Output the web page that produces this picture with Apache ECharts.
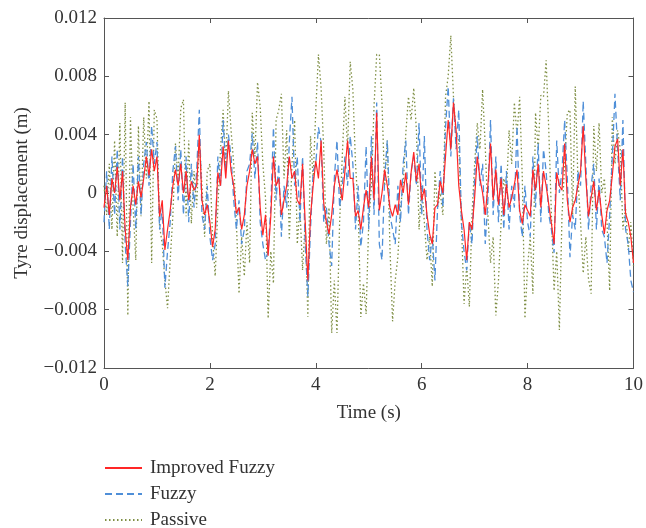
<!DOCTYPE html>
<html>
<head>
<meta charset="utf-8">
<script src="https://cdn.jsdelivr.net/npm/echarts@6/dist/echarts.min.js"></script>
<style>
  html, body { margin: 0; padding: 0; background: #fff; }
  #chart { width: 646px; height: 528px; }
</style>
</head>
<body>
<div id="chart"></div>
<script>
// sampled every 0.05 s, values in mm (converted to m below)
const dt = 0.05;

const improvedMm = [
  -1.0, 0.5, -1.5, 1.0, 0.0, 1.8, -0.5, 1.5, -2.5, -4.6, -1.0, 0.5, -0.8, 0.8, -0.3, 1.0, 2.5, 1.2, 3.0, 1.5,
  2.5, -1.6, -0.5, -3.9, -2.5, -1.2, 0.5, 1.6, 0.5, 2.0, 0.0, 1.5, -0.5, 0.8, 0.2, 0.5, 4.0, -0.5, -1.5, -0.8,
  -2.0, -3.7, -2.5, 1.4, 0.5, 3.2, 1.0, 3.6, 1.5, 0.5, -1.4, -1.0, -2.5, -1.5, 0.5, 1.5, 3.0, 2.0, 2.5, -1.0,
  -2.9, -1.5, -4.3, -1.6, 2.5, 0.5, 1.0, -1.5, -0.5, 0.5, 2.5, 1.0, 1.5, -0.5, -0.8, 2.0, -2.0, -6.0, -1.6, 0.5,
  2.2, 1.0, 3.6, -0.7, -2.0, -2.8, -1.5, 0.5, 1.6, 0.5, -0.5, 1.5, 3.6, 1.0, 1.0, -1.6, -1.2, -2.5, -1.0, 0.2,
  -1.0, 2.5, -0.5, 5.5, -1.2, 0.0, 1.6, 0.5, -1.0, -1.6, -0.8, -1.5, 0.9, 0.0, 1.4, -0.8, 1.4, 2.8, 0.8, 2.0,
  -0.5, 0.3, -1.5, -2.8, -3.5, -1.0, -0.8, 0.8, 0.0, 2.5, 5.0, 3.0, 6.2, 4.3, 0.5, -1.2, -2.5, -4.6, -2.0, -2.5,
  -0.3, 2.5, 1.0, 0.0, -1.5, 0.5, 3.4, -0.5, 1.6, -0.8, 1.0, -1.5, 0.6, -1.0, -0.3, 0.6, 1.6, -1.2, -2.1, -0.8,
  -1.2, -1.6, 1.6, 0.2, 2.0, -1.0, 1.5, 0.5, -0.8, -2.1, -3.5, 1.4, 0.5, 0.2, 3.4, -0.5, -2.0, -1.0, -0.5, 0.5,
  1.5, 4.6, 1.0, -1.6, -0.3, 0.8, -1.2, 0.2, -1.5, -2.8, -1.2, -0.5, 1.2, 3.2, 3.7, 0.5, 3.0, -1.4, -2.0, -3.0,
  -4.8
];

const fuzzyMm = [
  -2.0, 1.5, -2.5, 2.5, -1.5, 3.0, -2.5, 2.5, -3.5, -6.4, -2.0, 2.0, -2.5, 2.5, -1.5, 2.0, 3.5, 0.5, 4.6, 2.0,
  3.5, -2.5, -1.0, -6.5, -4.0, -2.0, 1.5, 3.2, -0.5, 3.0, -1.5, 2.5, -2.0, 2.0, -1.0, 1.5, 5.7, -1.5, -2.5, 0.5,
  -3.0, -4.6, -3.5, 2.5, 0.5, 5.0, 1.5, 4.0, 2.5, -0.5, -2.5, -0.5, -3.5, -2.5, 1.5, 2.0, 4.1, 1.0, 3.5, -2.0,
  -3.5, -4.6, -4.0, -1.0, 4.5, -0.5, 2.0, -3.0, 0.5, -1.0, 3.5, 6.6, 0.5, 2.5, -2.0, 2.5, -3.5, -7.1, -2.5, 1.5,
  2.0, 4.5, 3.5, -2.0, -1.0, -3.5, -5.0, 1.0, 3.6, -1.0, 0.5, 2.5, 0.5, 3.9, 2.0, -2.5, 0.5, -3.7, -2.0, 3.2,
  -2.5, 3.9, -1.5, 6.2, -3.5, -4.6, 1.0, 3.6, -1.5, -2.5, -3.5, 0.5, -2.0, 2.0, 3.6, -1.5, 1.5, 2.5, 0.5, 4.8,
  -1.5, 3.9, -2.5, -4.6, -3.0, -6.0, -1.0, 1.5, -1.0, 4.5, 7.3, 2.5, 6.5, 3.0, 5.7, -2.0, -4.0, -5.3, -2.0, -3.5,
  1.0, 3.9, 0.5, 2.0, -3.5, -0.5, 5.0, -1.5, 2.5, -2.0, 2.0, -2.5, 1.5, -2.5, 0.5, -1.0, 4.6, -1.5, -3.0, 0.5,
  -2.0, -3.0, 2.5, -1.0, 3.4, -2.0, 3.0, 1.5, -1.5, -2.5, -4.1, 3.6, 0.0, 1.5, 5.0, 1.0, -4.4, -1.5, -2.5, 1.5,
  0.5, 6.3, 2.0, -2.5, 0.5, 2.0, -2.5, 1.0, -2.5, -3.0, -4.8, -1.5, 2.5, 6.8, 3.0, -0.5, 5.0, -2.5, -3.5, -6.0,
  -6.8
];

const passiveMm = [
  0.5, -1.5, 2.0, -2.5, 3.6, -3.0, 4.8, -4.8, 6.2, -8.4, 5.2, -1.0, -4.6, 4.6, -1.6, 5.2, 1.0, 6.3, -4.8, 5.7,
  5.1, -2.3, -3.5, -6.0, -7.9, -4.6, -1.6, 3.4, 1.0, 5.8, 6.4, -1.6, 3.6, -2.1, 1.5, -1.0, 3.6, 0.5, -3.0, 1.5,
  2.0, -3.0, -5.7, -1.0, 3.0, 5.7, 2.0, 7.0, 4.3, 2.0, -2.0, -6.9, -3.0, -5.7, -2.0, -4.8, 5.5, 2.5, 7.6, 5.9,
  2.0, -0.3, -8.6, -4.0, -6.2, 5.0, 5.7, 6.8, 1.0, 4.3, -3.2, 2.0, 5.0, -3.5, -1.0, -5.3, -2.0, -8.5, 3.9, 1.0,
  5.7, 9.5, 7.2, 3.0, -3.5, -1.0, -9.6, -6.0, -9.6, -2.0, 2.5, 6.6, 3.0, 9.0, 7.1, 2.0, -1.0, -8.5, -6.2, -8.3,
  -2.0, 0.5, 6.0, 9.5, 9.5, 6.2, 0.5, 3.6, -3.7, -8.8, -6.0, -4.4, -1.0, 0.5, 4.1, 6.6, 5.0, 7.2, 4.3, -2.5,
  0.5, -2.0, -4.6, -3.0, -6.4, 1.5, -1.0, 0.0, -1.5, 6.6, 8.0, 10.8, 6.6, 4.0, 3.6, -2.0, -7.6, -5.0, -7.8, -1.5,
  2.0, 4.8, 3.0, 7.1, 3.2, -1.5, -4.8, -3.0, -8.4, -6.0, -2.0, 1.0, 0.0, 4.3, 2.0, 6.2, 4.0, 6.6, 1.0, -8.6,
  -5.0, -3.0, -6.9, 5.5, 3.0, 6.7, 6.6, 9.1, 4.3, -1.5, -6.7, -4.0, -9.4, -1.5, 2.0, 5.5, 5.7, -1.5, 7.3, 1.0,
  -2.0, -5.5, -3.0, -5.9, -6.9, 4.6, 1.5, 4.8, 0.0, 1.0, -2.0, -6.7, 5.2, 2.0, 4.3, 3.0, -2.5, -1.0, -3.9, -2.0,
  -5.0
];

const xTicks = [0, 2, 4, 6, 8, 10];
const yTicks = [-0.012, -0.008, -0.004, 0, 0.004, 0.008, 0.012];

function toPairs(arr) {
  return arr.map((v, i) => [+(i * dt).toFixed(2), v / 1000]);
}

function yLabel(v) {
  if (Math.abs(v) < 1e-9) return "0";
  return (v < 0 ? "\u2212" : "") + Math.abs(v).toFixed(3);
}

const font = "Liberation Serif";
const axisColor = "#555";

// mirrored box axes (top / right), ticks only
function boxAxis(extra) {
  return Object.assign({
    type: "value",
    axisLine: { show: true, onZero: false, lineStyle: { color: axisColor, width: 1 } },
    axisTick: { show: true, inside: true, length: 5, lineStyle: { color: axisColor } },
    axisLabel: { show: false },
    splitLine: { show: false },
  }, extra);
}

let myChart = echarts.init(document.getElementById("chart"));
var option;
option = {
  backgroundColor: "#fff",
  animation: false,
  textStyle: { fontFamily: font, color: "#333" },
  grid: { left: 104, right: 12, top: 18, bottom: 160 },
  legend: {
    show: true,
    orient: "vertical",
    left: 99,
    top: 453,
    height: 75,
    itemWidth: 37,
    itemHeight: 14,
    itemGap: 6,
    itemStyle: { opacity: 0 },
    data: ["Improved Fuzzy", "Fuzzy", "Passive"],
    textStyle: { fontFamily: font, fontSize: 19, lineHeight: 20, color: "#333", padding: [0, 0, 0, 3] },
  },
  xAxis: [
    boxAxis({
      position: "bottom",
      min: xTicks[0],
      max: xTicks[xTicks.length - 1],
      interval: 2,
      name: "Time (s)",
      nameLocation: "middle",
      nameGap: 36,
      nameTextStyle: { fontFamily: font, fontSize: 19, color: "#333" },
      axisLabel: { show: true, fontFamily: font, fontSize: 19, color: "#333", margin: 8 },
    }),
    boxAxis({
      position: "top",
      min: xTicks[0],
      max: xTicks[xTicks.length - 1],
      interval: 2,
    }),
  ],
  yAxis: [
    boxAxis({
      position: "left",
      min: yTicks[0],
      max: yTicks[yTicks.length - 1],
      interval: 0.004,
      name: "Tyre displacement (m)",
      nameLocation: "middle",
      nameGap: 72,
      nameTextStyle: { fontFamily: font, fontSize: 19, color: "#333" },
      axisLabel: { show: true, fontFamily: font, fontSize: 19, color: "#333", margin: 7, formatter: yLabel },
    }),
    boxAxis({
      position: "right",
      min: yTicks[0],
      max: yTicks[yTicks.length - 1],
      interval: 0.004,
    }),
  ],
  series: [
    {
      name: "Passive",
      type: "line",
      showSymbol: false,
      symbol: "none",
      z: 1,
      color: "#7f8f45",
      lineStyle: { color: "#7f8f45", width: 1.3, type: [1.5, 2.5] },
      data: toPairs(passiveMm),
    },
    {
      name: "Fuzzy",
      type: "line",
      showSymbol: false,
      symbol: "none",
      z: 2,
      color: "#4f8fd8",
      lineStyle: { color: "#4f8fd8", width: 1.3, type: [7, 4] },
      data: toPairs(fuzzyMm),
    },
    {
      name: "Improved Fuzzy",
      type: "line",
      showSymbol: false,
      symbol: "none",
      z: 3,
      color: "#ff2626",
      lineStyle: { color: "#ff2626", width: 1.2 },
      data: toPairs(improvedMm),
    },
  ],
};
option && myChart.setOption(option);
</script>
</body>
</html>
